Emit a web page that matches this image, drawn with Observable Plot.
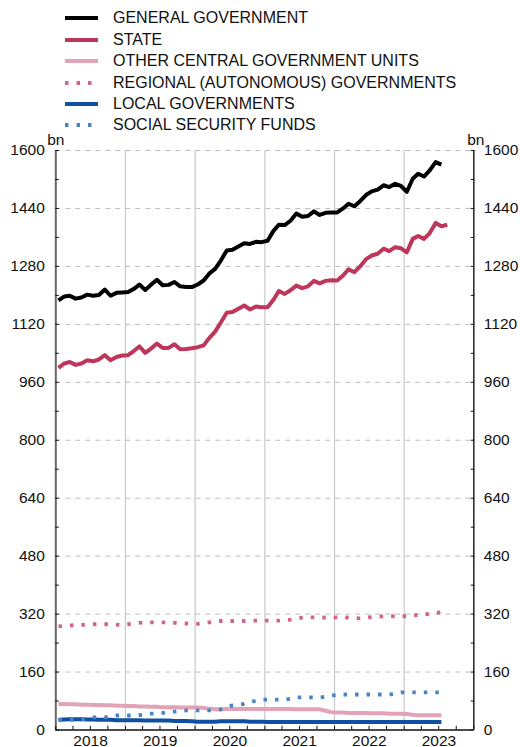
<!DOCTYPE html>
<html>
<head>
<meta charset="utf-8">
<script src="https://cdn.jsdelivr.net/npm/d3@7"></script>
<script src="https://cdn.jsdelivr.net/npm/@observablehq/plot@0.6"></script>
<style>
  html, body { margin: 0; padding: 0; background: #fff; }
  #wrap { width: 520px; height: 747px; position: relative; overflow: hidden; }
  #legend { position: relative; height: 132px; font: 16px "Liberation Sans", Arial, sans-serif; color: #111; }
  .row { position: absolute; left: 0; height: 20px; width: 520px; }
  .row svg { position: absolute; left: 65px; top: 0; }
  .row span { position: absolute; left: 113px; top: 1px; line-height: 18px; white-space: nowrap; }
</style>
</head>
<body>
<div id="wrap">
  <div id="legend"></div>
  <div id="chart"></div>
</div>
<script>
// ---- data (bn, monthly, first month = Jan 2018) ----
const startYear = 2018;
const seriesNames = [
  "GENERAL GOVERNMENT",
  "STATE",
  "OTHER CENTRAL GOVERNMENT UNITS",
  "REGIONAL (AUTONOMOUS) GOVERNMENTS",
  "LOCAL GOVERNMENTS",
  "SOCIAL SECURITY FUNDS"
];
const generalGovernment = [
  1186,1197,1199,1191,1194,1202,1199,1201,1216,1199,1207,1208,
  1209,1218,1230,1215,1229,1243,1228,1229,1237,1225,1223,1223,
  1230,1241,1260,1273,1296,1324,1326,1335,1344,1342,1348,1347,
  1351,1378,1395,1394,1406,1426,1417,1419,1432,1422,1428,1429,
  1429,1440,1453,1446,1460,1477,1487,1492,1504,1499,1508,1502,
  1486,1522,1536,1528,1545,1568,1561
];
const state = [
  1000,1012,1016,1008,1012,1021,1018,1023,1035,1021,1030,1034,
  1035,1047,1059,1041,1053,1067,1055,1055,1065,1051,1052,1054,
  1057,1062,1082,1100,1125,1152,1154,1163,1172,1161,1169,1167,
  1167,1188,1212,1204,1214,1227,1220,1225,1240,1233,1240,1242,
  1241,1255,1272,1264,1280,1300,1310,1315,1329,1322,1333,1330,
  1319,1356,1364,1356,1372,1400,1391,1395
];
const otherCentral = [
  72,72,71,71,70,70,69,69,68,68,67,67,
  66,66,65,65,64,64,63,63,63,62,62,62,
  62,61,59,57,57,58,58,58,58,58,58,58,
  58,58,58,58,58,57,57,57,57,57,53,49,
  48,48,47,47,47,47,46,46,46,45,45,45,
  44,42,41,41,41,41,41
];
const regional = [
  286,287,288,290,290,291,292,292,292,292,291,290,
  292,294,296,297,297,297,297,297,296,295,294,293,
  293,295,297,299,301,301,301,301,301,302,302,302,
  302,302,302,303,305,308,310,311,311,311,310,310,
  311,311,310,309,308,310,312,313,314,314,314,314,
  314,316,318,319,321,323,325
];
const local = [
  28,29,30,30,30,29,29,28,28,28,27,27,
  27,27,27,26,26,26,26,26,25,25,25,24,
  23,23,23,23,24,24,24,24,24,23,23,23,
  22,22,22,22,22,22,22,22,22,22,22,22,
  22,22,22,22,22,22,22,22,22,22,22,22,
  22,22,22,22,22,22,22
];
const socialSecurity = [
  28,28,28,28,29,32,35,35,35,37,40,40,
  40,40,41,43,45,46,47,49,51,53,54,54,
  54,54,54,55,57,62,68,70,72,77,81,84,
  84,84,84,84,86,90,90,90,90,90,92,95,
  97,98,98,98,98,98,98,98,98,98,100,104,
  104,104,104,104,104,104,104
];
const yLabelTicks = [0,160,320,480,640,800,960,1120,1280,1440,1600];
const yMinorTicks = d3.range(0, 1601, 80);

// ---- styles ----
const colors = ["#000000", "#be375a", "#e3a3b7", "#d2648c", "#0f50a0", "#4a84c6"];
const dashes = [null, null, null, "3.5,8", null, "3.5,8"];
const values = [generalGovernment, state, otherCentral, regional, local, socialSecurity];

const monthDate = i => new Date(Date.UTC(startYear, i, 15));
const rows = [];
values.forEach((arr, s) => arr.forEach((v, i) => rows.push({series: seriesNames[s], date: monthDate(i), value: v})));

// ---- legend ----
const legend = document.getElementById("legend");
const centers = [18.3, 40, 61.3, 82.5, 104, 125.3];
seriesNames.forEach((name, s) => {
  const row = document.createElement("div");
  row.className = "row";
  row.style.top = (centers[s] - 10) + "px";
  const dash = dashes[s] ? `stroke-dasharray="${dashes[s]}"` : "";
  row.innerHTML = `<svg width="34" height="20"><line x1="0" x2="33" y1="10" y2="10" stroke="${colors[s]}" stroke-width="${dashes[s] ? 3.8 : 4}" ${dash}/></svg><span>${name}</span>`;
  legend.appendChild(row);
});

// ---- chart ----
const x0 = new Date(Date.UTC(2018, 0, 1)), x1 = new Date(Date.UTC(2024, 0, 1));
const yearLines = d3.range(2019, 2024).map(y => new Date(Date.UTC(y, 0, 1)));
const yearMids = d3.range(2018, 2024).map(y => new Date(Date.UTC(y, 6, 2)));
const quarterTicks = d3.utcMonth.every(3).range(x0, new Date(Date.UTC(2024, 0, 2)));
const font = "Liberation Sans, Arial, sans-serif";
const order = [2, 4, 3, 5, 1, 0];
const fmt = d => String(d);

const lineMarks = order.map(s => Plot.line(rows.filter(d => d.series === seriesNames[s]), {
  x: "date", y: "value", stroke: colors[s],
  strokeWidth: dashes[s] ? 3.8 : 4,
  strokeDasharray: dashes[s] || undefined,
  strokeLinecap: "butt", strokeLinejoin: "round"
}));

const chart = Plot.plot({
  width: 520, height: 615,
  marginTop: 18, marginBottom: 17.5, marginLeft: 55.3, marginRight: 46.7,
  style: {fontFamily: font, fontSize: "15.5px", background: "transparent", overflow: "visible", color: "#111"},
  x: {type: "utc", domain: [x0, x1], axis: null, label: null},
  y: {domain: [0, 1600], axis: null, label: null},
  marks: [
    Plot.ruleX(yearLines, {stroke: "#c8c8c8", strokeWidth: 1.2}),
    Plot.ruleY(yLabelTicks.filter(d => d > 0), {stroke: "#bdbdbd", strokeDasharray: "5,5", strokeWidth: 1}),
    ...lineMarks,
    Plot.ruleX([x0], {stroke: "#666", strokeWidth: 2}),
    Plot.ruleX([x1], {stroke: "#222", strokeWidth: 1.5}),
    Plot.ruleY([0], {stroke: "#111", strokeWidth: 1.5}),
    Plot.axisY({anchor: "left", ticks: yLabelTicks, tickSize: 0, tickPadding: 11, tickFormat: fmt, label: null, fontSize: 15.5, fill: "#111"}),
    Plot.axisY({anchor: "right", ticks: yLabelTicks, tickSize: 0, tickPadding: 10, tickFormat: fmt, label: null, fontSize: 15.5, fill: "#111"}),
    Plot.axisY({anchor: "left", ticks: yMinorTicks, tickSize: -3.5, tickFormat: () => "", label: null, stroke: "#111"}),
    Plot.axisY({anchor: "right", ticks: yMinorTicks, tickSize: -3.5, tickFormat: () => "", label: null, stroke: "#111"}),
    Plot.axisX({ticks: yearMids, tickSize: 0, tickPadding: 5, tickFormat: d3.utcFormat("%Y"), label: null, fontSize: 15.5, fill: "#111"}),
    Plot.axisX({ticks: quarterTicks, tickSize: -3.7, tickFormat: () => "", label: null, stroke: "#111"}),
    Plot.text(["bn"], {frameAnchor: "top-left", textAnchor: "middle", lineAnchor: "middle", dx: 0, dy: -10.5, text: d => d, fontSize: 15.5, fill: "#111"}),
    Plot.text(["bn"], {frameAnchor: "top-right", textAnchor: "middle", lineAnchor: "middle", dx: 2, dy: -10.5, text: d => d, fontSize: 15.5, fill: "#111"})
  ]
});
document.getElementById("chart").appendChild(chart);
</script>
</body>
</html>
